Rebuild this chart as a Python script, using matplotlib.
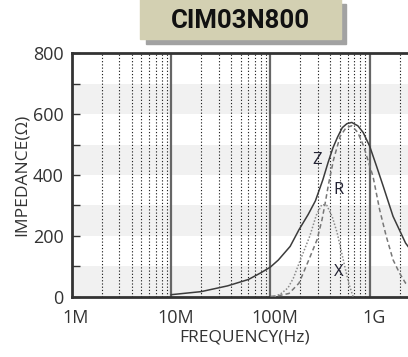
"""Impedance vs frequency chart for CIM03N800."""
import matplotlib
matplotlib.use("Agg")
import matplotlib.pyplot as plt
import matplotlib.transforms as mtransforms
from matplotlib.patches import Rectangle

TITLE = "CIM03N800"

# |Z| (Hz, ohm)
Z_FREQ = [10e6, 20e6, 37e6, 60e6, 80e6, 100e6, 120e6, 158e6, 194e6, 240e6, 284e6,
          338e6, 380e6, 427e6, 475e6, 530e6, 590e6, 660e6, 760e6, 860e6, 1e9,
          1.17e9, 1.37e9, 1.72e9, 2.3e9, 3e9]
Z_VAL = [6, 16, 35, 56, 78, 97, 120, 165, 220, 270, 315,
         385, 440, 490, 525, 556, 569, 573, 562, 540, 495,
         430, 363, 264, 176, 125]

# R
R_FREQ = [100e6, 126e6, 154e6, 194e6, 244e6, 295e6, 331e6, 357e6, 385e6, 433e6,
          505e6, 580e6, 660e6, 760e6, 870e6, 1e9, 1.08e9, 1.26e9, 1.47e9, 1.72e9,
          2.0e9, 2.3e9, 3e9]
R_VAL = [0, 4, 10, 44, 121, 187, 253, 309, 370, 451,
         528, 556, 562, 540, 495, 430, 396, 286, 198, 121,
         77, 44, 20]

# X
X_FREQ = [110e6, 126e6, 150e6, 170e6, 200e6, 250e6, 290e6, 330e6, 370e6, 420e6,
          470e6, 505e6, 560e6, 620e6, 680e6]
X_VAL = [0, 8, 28, 60, 120, 200, 268, 303, 300, 262,
         210, 165, 100, 40, 0]

Y_TICKS = [0, 200, 400, 600, 800]
X_TICKS = [1e6, 1e7, 1e8, 1e9]
X_TICK_LABELS = ["1M", "10M", "100M", "1G"]

FONT = ["Open Sans", "DejaVu Sans"]


def main():
    plt.rcParams["font.family"] = FONT
    fig = plt.figure(figsize=(4.08, 3.57), dpi=100)

    # title plate with drop shadow
    fig.patches.append(Rectangle((146 / 408, 1 - 44 / 357), 200 / 408, 40 / 357,
                                 transform=fig.transFigure, color="#a2a2a2", zorder=0))
    fig.patches.append(Rectangle((140 / 408, 1 - 39 / 357), 201 / 408, 40 / 357,
                                 transform=fig.transFigure, color="#d3d0b2", zorder=1))
    fig.text(240 / 408, 1 - 21 / 357, TITLE, ha="center", va="center",
             fontsize=18.5, fontweight="bold", color="#111111",
             family=["Roboto", "DejaVu Sans"])

    ax = fig.add_axes([72 / 408, 60.5 / 357, 345 / 408, 243 / 357])
    ax.set_xscale("log")
    ax.set_xlim(1e6, 3e9)
    ax.set_ylim(0, 800)

    # light bands
    for lo in range(0, 800, 200):
        ax.axhspan(lo, lo + 100, color="#f1f1f1", lw=0, zorder=0)

    # grid
    for dec in [1e6, 1e7, 1e8, 1e9]:
        for m in range(2, 10):
            f = dec * m
            if f > 3e9:
                break
            ax.axvline(f, color="#222222", lw=0.8, ls=(0, (1.1, 1.8)), zorder=1)
        if dec > 1e6:
            ax.axvline(dec, color="#666666", lw=1.6, zorder=1)

    ax.plot(Z_FREQ, Z_VAL, color="#3c3c3c", lw=1.1, zorder=3)
    ax.plot(R_FREQ, R_VAL, color="#777777", lw=1.1, ls=(0, (3, 2)), zorder=3)
    ax.plot(X_FREQ, X_VAL, color="#8a8a8a", lw=1.1, ls=(0, (1, 1.2)), zorder=3)

    ax.text(295e6, 449, "Z", fontsize=12, color="#222233", ha="center", va="center", zorder=4)
    ax.text(486e6, 351, "R", fontsize=12, color="#222233", ha="center", va="center", zorder=4)
    ax.text(486e6, 82, "X", fontsize=12, color="#222233", ha="center", va="center", zorder=4)

    ax.set_yticks(Y_TICKS)
    ax.set_yticks([100, 300, 500, 700], minor=True)
    ax.tick_params(axis="y", which="both", direction="in", length=6, width=1,
                   color="#333333", labelsize=13, labelcolor="#333333", pad=6)
    ax.set_xticks(X_TICKS)
    ax.set_xticklabels(X_TICK_LABELS)
    ax.xaxis.set_minor_locator(plt.NullLocator())
    ax.tick_params(axis="x", which="both", length=0, labelsize=13,
                   labelcolor="#333333", pad=9)
    shift = mtransforms.ScaledTranslation(4 / 100, 0, fig.dpi_scale_trans)
    for lab in ax.get_xticklabels():
        lab.set_transform(lab.get_transform() + shift)

    for side in ["left", "bottom", "top"]:
        ax.spines[side].set_color("#333333")
        ax.spines[side].set_linewidth(2)
    ax.spines["right"].set_visible(False)

    ax.set_xlabel("FREQUENCY(Hz)", fontsize=12.5, color="#333333", labelpad=2)
    ax.set_ylabel("IMPEDANCE(Ω)", fontsize=12.5, color="#333333", labelpad=2)

    fig.savefig("out.png", dpi=100)


if __name__ == "__main__":
    main()
